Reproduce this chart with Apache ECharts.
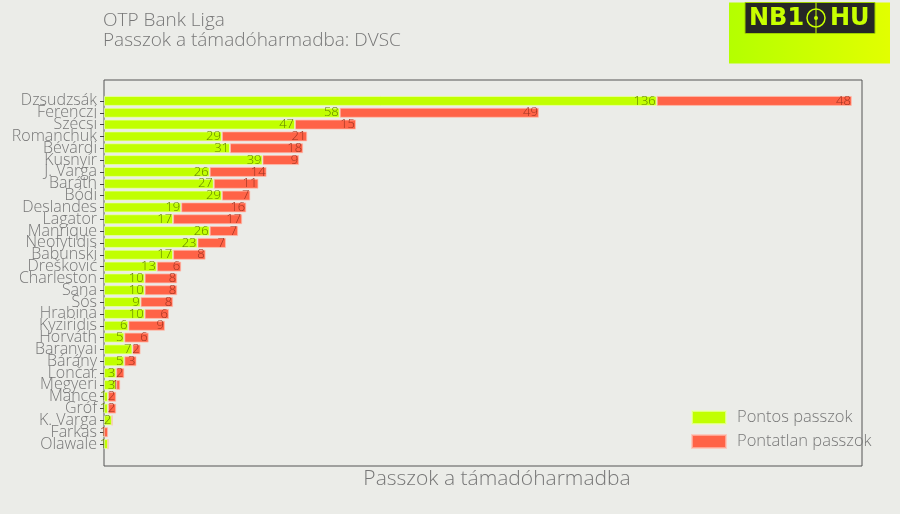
<!DOCTYPE html>
<html><head><meta charset="utf-8">
<script src="https://cdn.jsdelivr.net/npm/echarts@6/dist/echarts.min.js"></script>
<style>html,body{margin:0;padding:0;background:#ebece8;}#c{width:900px;height:514px;}</style>
</head><body><div id="c"></div>
<script>
const players = ["Dzsudzsák","Ferenczi","Szécsi","Romanchuk","Bévárdi","Kusnyír","J. Varga","Baráth","Bódi","Deslandes","Lagator","Manrique","Neofytidis","Babunski","Drešković","Charleston","Sana","Sós","Hrabina","Kyziridis","Horváth","Baranyai","Bárány","Lončar","Megyeri","Mance","Gróf","K. Varga","Farkas","Olawale"];
const accurate = [136,58,47,29,31,39,26,27,29,19,17,26,23,17,13,10,10,9,10,6,5,7,5,3,3,1,1,2,0,1];
const inaccurate = [48,49,15,21,18,9,14,11,7,16,17,7,7,8,6,8,8,8,6,9,6,2,3,2,1,2,2,0,1,0];
const seriesNames = ["Pontos passzok","Pontatlan passzok"];
const titleLines = ["OTP Bank Liga","Passzok a támadóharmadba: DVSC"];
const xAxisName = "Passzok a támadóharmadba";

const FONT = "Open Sans";
const chart = echarts.init(document.getElementById('c'));
const fmt = p => p.value === 0 ? '' : String(p.value);
chart.setOption({
  backgroundColor: '#ebece8',
  animation: false,
  textStyle: {fontFamily: FONT},
  title: {
    text: titleLines.join('\n'), left: 98, top: 6,
    textStyle: {fontFamily: FONT, fontWeight: 300, fontSize: 19, color: '#777', lineHeight: 20}
  },
  grid: [
    {left: 104, right: 38, top: 95, bottom: 64, show: false},
    {left: 104, right: 38, top: 80, bottom: 48, show: true, borderColor: '#555', borderWidth: 1, backgroundColor: 'transparent'}
  ],
  legend: {
    orient: 'vertical', left: 686, top: 404, itemWidth: 34, itemHeight: 13, itemGap: 7, icon: 'rect',
    textStyle: {fontFamily: FONT, fontWeight: 300, fontSize: 16.5, color: '#777', padding: [0,0,0,6]},
    data: seriesNames
  },
  xAxis: [
    {type: 'value', gridIndex: 0, min: 0, max: 186.5, show: false},
    {type: 'value', gridIndex: 1, show: false}
  ],
  yAxis: [
    {type: 'category', gridIndex: 0, data: players, inverse: true,
     axisLine: {show: false},
     axisTick: {show: true, length: 4, alignWithLabel: true, lineStyle: {color: '#444'}},
     axisLabel: {fontFamily: FONT, fontWeight: 300, fontSize: 16, color: '#777', margin: 7, interval: 0}},
    {type: 'category', gridIndex: 1, show: false, data: ['']}
  ],
  series: [
    {name: seriesNames[0], type: 'bar', stack: 'a', barWidth: 10, data: accurate,
     itemStyle: {color: '#c1ff00', borderColor: 'rgba(235,255,180,0.7)', borderWidth: 1},
     label: {show: true, position: 'insideRight', distance: 1, formatter: fmt, fontFamily: FONT, fontWeight: 300, fontSize: 13, color: '#628000'}},
    {name: seriesNames[1], type: 'bar', stack: 'a', barWidth: 10, data: inaccurate,
     itemStyle: {color: '#ff6347', borderColor: 'rgba(255,190,175,0.7)', borderWidth: 1},
     label: {show: true, position: 'insideRight', distance: 1, formatter: fmt, fontFamily: FONT, fontWeight: 300, fontSize: 13, color: '#9c3220'}}
  ],
  graphic: [
    {type: 'text', style: {text: xAxisName, x: 497, y: 469, textAlign: 'center', fontFamily: FONT, fontWeight: 300, fontSize: 21, fill: '#777'}},
    {type: 'group', left: 729, top: 0, children: [
      {type: 'rect', shape: {x: 0, y: 0, width: 161, height: 61},
       style: {fill: new echarts.graphic.LinearGradient(0, 0, 1, 0, [{offset: 0, color: '#b4ff00'}, {offset: 1, color: '#e2ff00'}])}},
      {type: 'rect', shape: {x: 16, y: 0, width: 130, height: 31}, style: {fill: '#262626', stroke: '#9fce00', lineWidth: 1}},
      {type: 'text', style: {text: 'NB1', x: 20, y: 4, fontFamily: 'DejaVu Sans', fontWeight: 'bold', fontSize: 24, fill: '#c8ff00'}},
      {type: 'text', style: {text: 'HU', x: 101, y: 4, fontFamily: 'DejaVu Sans', fontWeight: 'bold', fontSize: 24, fill: '#c8ff00'}},
      {type: 'line', shape: {x1: 87, y1: 0, x2: 87, y2: 31}, style: {stroke: '#c8ff00', lineWidth: 1}},
      {type: 'circle', shape: {cx: 87, cy: 15.5, r: 9}, style: {fill: 'none', stroke: '#c8ff00', lineWidth: 1.5}},
      {type: 'circle', shape: {cx: 87, cy: 15.5, r: 2}, style: {fill: '#c8ff00'}}
    ]}
  ]
});
</script></body></html>
